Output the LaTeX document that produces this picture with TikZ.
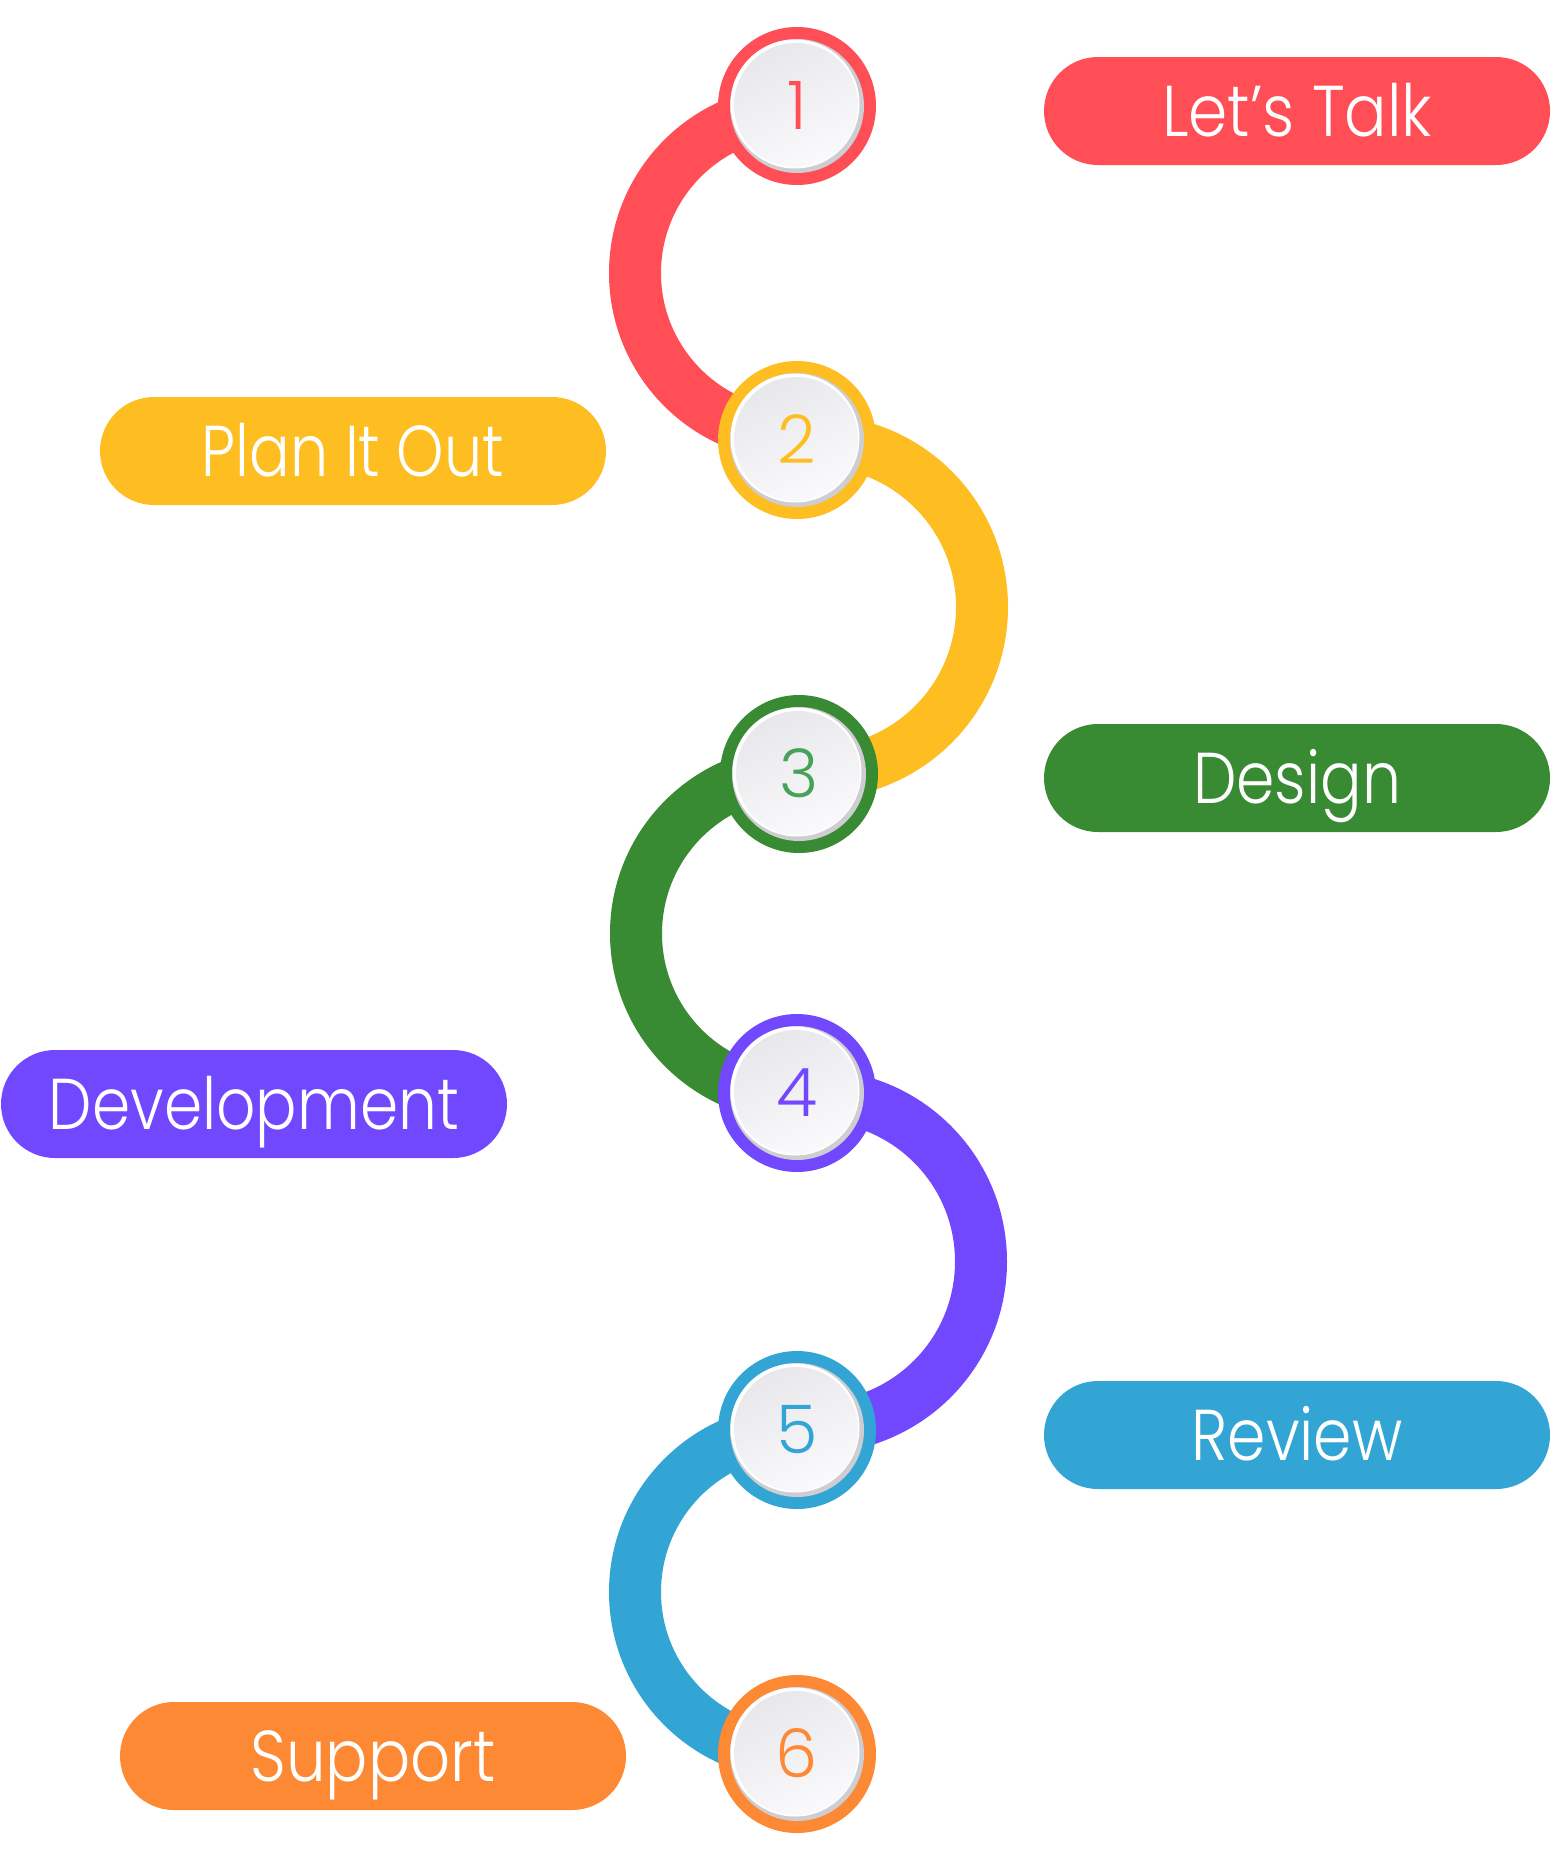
\documentclass[tikz,border=0pt]{standalone}
\usepackage{fontspec}
\usepackage{graphicx}
\setmainfont{Poppins}[UprightFont=* Light]
\usetikzlibrary{calc}
\definecolor{cRed}{HTML}{FF4E55}
\definecolor{cYel}{HTML}{FEBE22}
\definecolor{cGrn}{HTML}{388B32}
\definecolor{cGrnTxt}{HTML}{47A259}
\definecolor{cPur}{HTML}{7148FE}
\definecolor{cBlu}{HTML}{33A5D4}
\definecolor{cOra}{HTML}{FE8934}
\definecolor{rimc}{HTML}{CDCDD2}
\definecolor{discTop}{HTML}{E8E7EB}
\definecolor{discBot}{HTML}{FAFAFC}
\pgfdeclarelayer{bg}
\pgfsetlayers{bg,main}
\begin{document}
\begin{tikzpicture}[x=1pt,y=1pt,
  arcline/.style={line width=52pt},
  stepcirc/.style={circle, minimum size=158pt, inner sep=0pt, fill=#1, text=#1,
     font=\fontsize{67}{67}\selectfont, text height=47pt, text depth=0pt,
     path picture={
       \fill[rimc] (path picture bounding box.center) circle[radius=67];
       \fill[white] ($(path picture bounding box.center)+(-2,2)$) circle[radius=64.5];
       \shade[top color=discTop, bottom color=discBot, shading angle=25] ($(path picture bounding box.center)+(-1,1)$) circle[radius=62];
     }},
  pill/.style={rectangle, rounded corners=54pt, minimum width=506pt, minimum height=108pt,
     inner sep=0pt, fill=#1, text=white, font=\fontsize{72}{72}\selectfont,
     text height=50pt, text depth=0pt}
]
\useasboundingbox (0,0) rectangle (1554,-1863);

\node[stepcirc=cRed] (c1) at (797,-106) {1};
\node[stepcirc=cYel] (c2) at (797,-440) {2};
\node[stepcirc=cGrn, text=cGrnTxt] (c3) at (799,-774) {3};
\node[stepcirc=cPur] (c4) at (797,-1093) {4};
\node[stepcirc=cBlu] (c5) at (797,-1430) {5};
\node[stepcirc=cOra] (c6) at (797,-1754) {6};

\begin{pgfonlayer}{bg}
\draw[arcline,cRed] ($(c1)!0.5!(c2)+(0,162)$) arc[start angle=90,end angle=270,radius=162];
\draw[arcline,cYel] ($(c2)!0.5!(c3)+(18,166)$) arc[start angle=90,end angle=-90,radius=166];
\draw[arcline,cGrn] ($(c3)!0.5!(c4)+(0,162)$) arc[start angle=90,end angle=270,radius=162];
\draw[arcline,cPur] ($(c4)!0.5!(c5)+(18,166)$) arc[start angle=90,end angle=-90,radius=166];
\draw[arcline,cBlu] ($(c5)!0.5!(c6)+(0,162)$) arc[start angle=90,end angle=270,radius=162];
\end{pgfonlayer}

\node[pill=cRed] (p1) at (1297,-111) {\resizebox{270pt}{\height}{Let’s Talk}};
\node[pill=cYel] (p2) at (353,-451) {\resizebox{302pt}{\height}{Plan It Out}};
\node[pill=cGrn] (p3) at (1297,-778) {\resizebox{208pt}{\height}{Design}};
\node[pill=cPur] (p4) at (254,-1104) {\resizebox{410pt}{\height}{Development}};
\node[pill=cBlu] (p5) at (1297,-1435) {\resizebox{211pt}{\height}{Review}};
\node[pill=cOra] (p6) at (373,-1756) {\resizebox{245pt}{\height}{Support}};
\end{tikzpicture}
\end{document}
